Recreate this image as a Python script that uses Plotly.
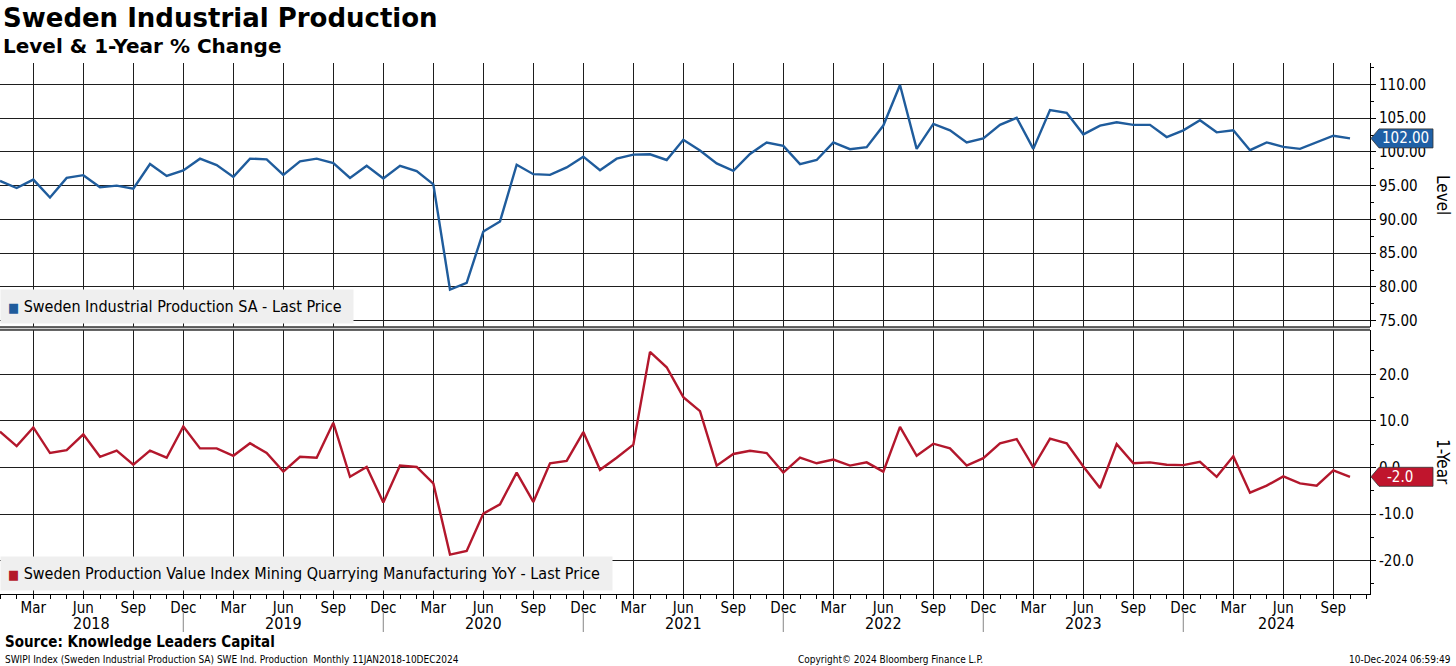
import plotly.graph_objects as go
import pandas as pd

# ---------------- data ----------------
start_month = "2018-01"
level = [95.7, 94.65, 95.9, 93.25, 96.15, 96.55, 94.75, 95.0, 94.55, 98.2,
         96.45, 97.25, 99.0, 98.05, 96.3, 99.0, 98.9, 96.6, 98.6, 99.0,
         98.35, 96.15, 97.95, 96.05, 97.95, 97.15, 95.2, 79.6, 80.6, 88.2,
         89.7, 98.1, 96.7, 96.6, 97.7, 99.3, 97.3, 99.0, 99.6, 99.65,
         98.8, 101.8, 100.2, 98.3, 97.2, 99.7, 101.4, 100.9, 98.2, 98.8,
         101.4, 100.4, 100.7, 103.9, 109.9, 100.45, 104.15, 103.2, 101.4, 102.0,
         104.0, 105.05, 100.45, 106.2, 105.8, 102.6, 103.9, 104.4, 104.0, 104.0,
         102.2, 103.2, 104.7, 102.9, 103.2, 100.25, 101.4, 100.75, 100.45, 101.4,
         102.4, 102.0]
yoy = [7.7, 4.6, 8.6, 3.1, 3.7, 7.1, 2.3, 3.6, 0.6, 3.6,
       2.1, 8.8, 4.1, 4.1, 2.5, 5.2, 3.1, -0.9, 2.3, 2.1,
       9.6, -2.0, 0.1, -7.5, 0.4, 0.1, -3.4, -18.7, -17.9, -9.9,
       -7.9, -1.1, -7.4, 0.9, 1.4, 7.6, -0.5, 2.1, 4.9, 24.8,
       21.5, 15.1, 12.1, 0.4, 2.9, 3.6, 3.1, -1.1, 2.1, 0.9,
       1.7, 0.4, 1.1, -0.9, 8.7, 2.5, 5.1, 4.1, 0.4, 2.0,
       5.2, 6.1, 0.1, 6.2, 5.2, 0.2, -4.4, 5.0, 0.9, 1.1,
       0.6, 0.5, 1.2, -2.0, 2.4, -5.4, -3.9, -1.9, -3.4, -3.9,
       -0.6, -2.0]
level_ticks = [75, 80, 85, 90, 95, 100, 105, 110]
yoy_ticks = [-20, -10, 0, 10, 20]
yoy_ticktext = ["-20.0", "-10.0", "0.0", "10.0", "20.0"]
level_last_label = "102.00"
yoy_last_label = "-2.0"
level_name = "Sweden Industrial Production SA - Last Price"
yoy_name = "Sweden Production Value Index Mining Quarrying Manufacturing YoY - Last Price"

months = pd.period_range(start_month, periods=len(level), freq="M")
x = list(range(len(months)))
quarter_idx = [i for i, m in enumerate(months) if m.month in (3, 6, 9, 12)]
quarter_txt = [months[i].strftime("%b") for i in quarter_idx]
dec_idx = [i for i, m in enumerate(months) if m.month == 12]
years = sorted(set(m.year for m in months))

# ---------------- styling ----------------
W, H = 1456, 666
ML, MR, MT, MB = 0, 86, 63, 72
PH = H - MT - MB
XMAX = 82.2
FONT = "DejaVu Sans Condensed, DejaVu Sans, sans-serif"
TFONT = "DejaVu Sans, sans-serif"
BLUE = "#1f5c9c"
RED = "#b3172c"
TAG_BLUE = "#1f60a6"
TAG_RED = "#c0152d"
GRID = "#1e1e1e"


def py(pix):
    return (H - MB - pix) / PH


top_dom = [py(327), 1.0]
bot_dom = [0.0, py(330)]

fig = go.Figure()
fig.add_trace(go.Scatter(x=x, y=level, mode="lines", name=level_name,
                         line=dict(color=BLUE, width=2.4), xaxis="x", yaxis="y",
                         showlegend=False))
fig.add_trace(go.Scatter(x=x, y=yoy, mode="lines", name=yoy_name,
                         line=dict(color=RED, width=2.4), xaxis="x2", yaxis="y2",
                         showlegend=False))

common_x = dict(range=[0, XMAX], tickmode="array", tickvals=quarter_idx,
                showgrid=True, gridcolor=GRID, gridwidth=1, zeroline=False,
                fixedrange=True)
fig.update_layout(
    width=W, height=H, margin=dict(l=ML, r=MR, t=MT, b=MB),
    paper_bgcolor="white", plot_bgcolor="white",
    font=dict(family=FONT, color="black", size=15),
    xaxis=dict(**common_x, anchor="y", showticklabels=False, ticks="",
               matches="x2"),
    xaxis2=dict(**common_x, anchor="y2", ticktext=quarter_txt,
                showticklabels=True, ticks="", ticklen=0,
                tickcolor="black", showline=True, linecolor="black",
                linewidth=1, tickfont=dict(size=15, family=FONT),
                minor=dict(tickmode="linear", tick0=0, dtick=1, ticks="outside",
                           ticklen=4, tickcolor="black", showgrid=False)),
    yaxis=dict(domain=top_dom, side="right", range=[74.06, 113.17],
               tickmode="array", tickvals=level_ticks, tickformat=".2f",
               ticks="outside", ticklen=5, tickcolor="black",
               showline=True, linecolor="black", linewidth=1,
               showgrid=True, gridcolor=GRID, gridwidth=1, zeroline=False,
               tickfont=dict(size=15, family=FONT),
               minor=dict(tickmode="linear", tick0=75, dtick=2.5,
                          ticks="outside", ticklen=3, tickcolor="black",
                          showgrid=False),
               anchor="x"),
    yaxis2=dict(domain=bot_dom, side="right", range=[-27.15, 29.5],
                tickmode="array", tickvals=yoy_ticks, ticktext=yoy_ticktext,
                ticks="outside", ticklen=5, tickcolor="black",
                showline=True, linecolor="black", linewidth=1,
                showgrid=True, gridcolor=GRID, gridwidth=1, zeroline=False,
                tickfont=dict(size=15, family=FONT),
                minor=dict(tickmode="linear", tick0=-25, dtick=5,
                           ticks="outside", ticklen=3, tickcolor="black",
                           showgrid=False),
                anchor="x2"),
)

shapes = []
# separator between panels
shapes.append(dict(type="rect", xref="paper", yref="paper", x0=0, x1=1,
                   y0=bot_dom[1], y1=top_dom[0], fillcolor="#cfcfcf",
                   line=dict(width=0), layer="above"))
for yy in (bot_dom[1], top_dom[0]):
    shapes.append(dict(type="line", xref="paper", yref="paper", x0=0, x1=1,
                       y0=yy, y1=yy, line=dict(color="#333333", width=1.5),
                       layer="above"))
# year separators under the axis
for i in dec_idx:
    shapes.append(dict(type="line", xref="x2", yref="paper", x0=i, x1=i,
                       y0=py(612), y1=py(632), line=dict(color="#9a9a9a", width=1.2)))
# value tags
for val, col, yref in ((level[-1], TAG_BLUE, "y"), (yoy[-1], TAG_RED, "y2")):
    shapes.append(dict(type="path", xref="paper", yref=yref,
                       xsizemode="pixel", ysizemode="pixel", xanchor=1, yanchor=val,
                       path="M1,0 L9,9.5 L63,9.5 L63,-9.5 L9,-9.5 Z",
                       fillcolor=col, line=dict(color="#333333", width=0.8),
                       layer="above"))
fig.update_layout(shapes=shapes)

ann = []
ann.append(dict(text=level_last_label, xref="paper", yref="y", x=1, y=level[-1],
                xanchor="center", yanchor="middle", xshift=35, showarrow=False,
                font=dict(color="white", size=15, family=FONT)))
ann.append(dict(text=yoy_last_label, xref="paper", yref="y2", x=1, y=yoy[-1],
                xanchor="center", yanchor="middle", xshift=30, showarrow=False,
                font=dict(color="white", size=15, family=FONT)))
# axis titles
ann.append(dict(text="Level", xref="paper", yref="paper", x=1, xshift=73,
                y=py(195), textangle=90, showarrow=False, xanchor="center",
                yanchor="middle", font=dict(size=17, family=FONT)))
ann.append(dict(text="1-Year", xref="paper", yref="paper", x=1, xshift=73,
                y=py(462), textangle=90, showarrow=False, xanchor="center",
                yanchor="middle", font=dict(size=17, family=FONT)))
# legends
ann.append(dict(text=f"<span style='color:{BLUE};font-size:13px'>■</span> {level_name} ",
                xref="paper", yref="paper", x=0, y=py(324), xanchor="left",
                yanchor="bottom", showarrow=False, bgcolor="#efefef",
                borderpad=7, font=dict(size=16, family=FONT)))
ann.append(dict(text=f"<span style='color:{RED};font-size:13px'>■</span> {yoy_name} ",
                xref="paper", yref="paper", x=0, y=py(591), xanchor="left",
                yanchor="bottom", showarrow=False, bgcolor="#efefef",
                borderpad=7, font=dict(size=16, family=FONT)))
# year labels
for yr in years:
    prev = [i for i in dec_idx if months[i].year == yr - 1]
    cur = [i for i in dec_idx if months[i].year == yr]
    a = prev[0] if prev else 0
    b = cur[0] if cur else XMAX
    ann.append(dict(text=str(yr), xref="x2", yref="paper", x=(a + b) / 2,
                    y=py(623), xanchor="center", yanchor="middle",
                    showarrow=False, font=dict(size=16, family=FONT)))
# titles
ann.append(dict(text="<b>Sweden Industrial Production</b>", xref="paper",
                yref="paper", x=0, xshift=1, y=py(18), xanchor="left",
                yanchor="middle", showarrow=False,
                font=dict(size=26, family=TFONT)))
ann.append(dict(text="<b>Level & 1-Year % Change</b>", xref="paper",
                yref="paper", x=0, xshift=1, y=py(46), xanchor="left",
                yanchor="middle", showarrow=False,
                font=dict(size=20, family=TFONT)))
ann.append(dict(text="<b>Source: Knowledge Leaders Capital</b>", xref="paper",
                yref="paper", x=0, xshift=3, y=py(642), xanchor="left",
                yanchor="middle", showarrow=False,
                font=dict(size=15, family=FONT)))
ann.append(dict(text="SWIPI Index (Sweden Industrial Production SA) SWE Ind. Production  Monthly 11JAN2018-10DEC2024",
                xref="paper", yref="paper", x=0, xshift=3, y=py(659),
                xanchor="left", yanchor="middle", showarrow=False,
                font=dict(size=10, family=FONT)))
ann.append(dict(text="Copyright© 2024 Bloomberg Finance L.P.", xref="paper",
                yref="paper", x=890 / (W - MR), y=py(659), xanchor="center",
                yanchor="middle", showarrow=False, font=dict(size=10, family=FONT)))
ann.append(dict(text="10-Dec-2024 06:59:49", xref="paper", yref="paper",
                x=1, xshift=MR - 3, y=py(659), xanchor="right",
                yanchor="middle", showarrow=False, font=dict(size=10, family=FONT)))
fig.update_layout(annotations=ann)

fig.write_html("out.html", config={"displayModeBar": False},
               post_script="document.body.style.margin='0px';document.body.style.overflow='hidden';")
